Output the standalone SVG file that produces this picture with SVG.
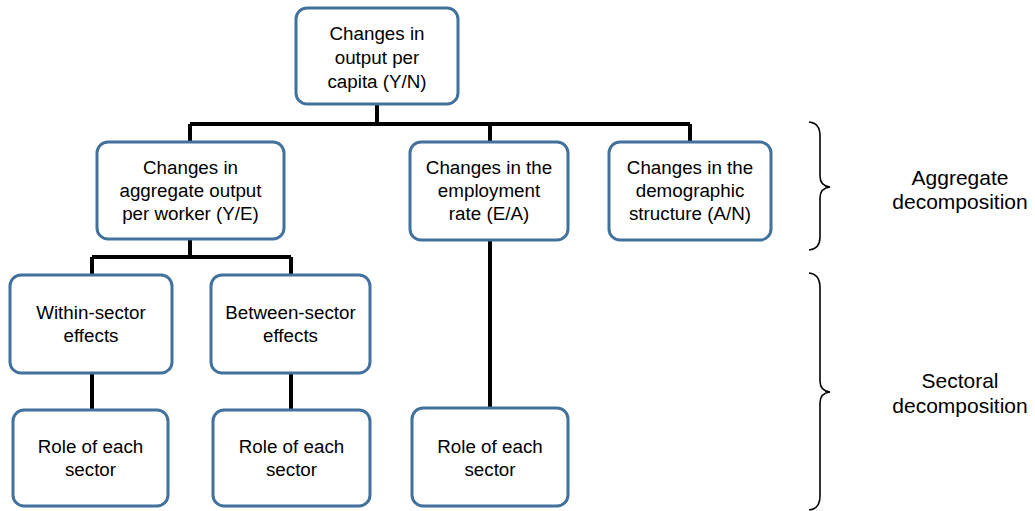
<svg xmlns="http://www.w3.org/2000/svg" width="1035" height="511" viewBox="0 0 1035 511">
<style>
.box{fill:#fff;stroke:#41719C;stroke-width:3}
.t{font-family:"Liberation Sans",Arial,sans-serif;font-size:18.8px;fill:#000;text-anchor:middle}
.l{font-size:21px}
.c{fill:none;stroke:#000;stroke-width:4}
.br{fill:none;stroke:#000;stroke-width:1.6}
</style>
<rect width="1035" height="511" fill="#fff"/>
<g id="connectors">
<path class="c" d="M377 104V124M190 124H690M190 124V142M490 124V142M690 124V142"/>
<path class="c" d="M190 239V257M92 257H291M92 257V275M291 257V275"/>
<path class="c" d="M92 373V410M291 373V410M490 240V408"/>
</g>
<g id="n-top"><rect class="box" x="296" y="8" width="162" height="96" rx="11"/>
<text class="t" x="377" y="40">Changes in</text><text class="t" x="377" y="64">output per</text><text class="t" x="377" y="88">capita (Y/N)</text></g>
<g id="n-ye"><rect class="box" x="97" y="142" width="187" height="97" rx="11"/>
<text class="t" x="190.5" y="174">Changes in</text><text class="t" x="190.5" y="197">aggregate output</text><text class="t" x="190.5" y="220">per worker (Y/E)</text></g>
<g id="n-ea"><rect class="box" x="410" y="142" width="158" height="98" rx="11"/>
<text class="t" x="489" y="174">Changes in the</text><text class="t" x="489" y="197">employment</text><text class="t" x="489" y="220">rate (E/A)</text></g>
<g id="n-an"><rect class="box" x="609" y="142" width="162" height="98" rx="11"/>
<text class="t" x="690" y="174">Changes in the</text><text class="t" x="690" y="197">demographic</text><text class="t" x="690" y="220">structure (A/N)</text></g>
<g id="n-within"><rect class="box" x="10" y="275" width="162" height="98" rx="11"/>
<text class="t" x="91" y="319">Within-sector</text><text class="t" x="91" y="342">effects</text></g>
<g id="n-between"><rect class="box" x="211" y="275" width="159" height="98" rx="11"/>
<text class="t" x="290.5" y="319">Between-sector</text><text class="t" x="290.5" y="342">effects</text></g>
<g id="n-role1"><rect class="box" x="13" y="410" width="155" height="96" rx="11"/>
<text class="t" x="90.5" y="453">Role of each</text><text class="t" x="90.5" y="476">sector</text></g>
<g id="n-role2"><rect class="box" x="213" y="410" width="157" height="96" rx="11"/>
<text class="t" x="291.5" y="453">Role of each</text><text class="t" x="291.5" y="476">sector</text></g>
<g id="n-role3"><rect class="box" x="412" y="408" width="156" height="98" rx="11"/>
<text class="t" x="490" y="453">Role of each</text><text class="t" x="490" y="476">sector</text></g>
<g id="brace-agg">
<path class="br" d="M809 122Q820 123 820 136V176Q820 186 830 187Q820 188 820 198V237Q820 249 809 250"/>
<text class="t l" x="960" y="185">Aggregate</text><text class="t l" x="960" y="209">decomposition</text></g>
<g id="brace-sec">
<path class="br" d="M809 273Q820 274 820 288V381Q820 391 830 392Q820 393 820 403V496Q820 509 809 510"/>
<text class="t l" x="960" y="388">Sectoral</text><text class="t l" x="960" y="413">decomposition</text></g>
</svg>
